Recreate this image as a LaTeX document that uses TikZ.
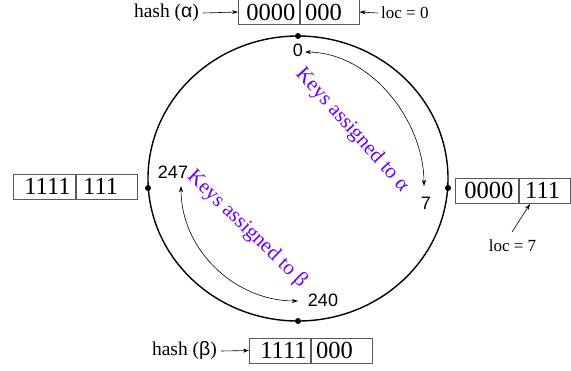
\documentclass[tikz,border=0pt]{standalone}
\usepackage{fontspec}
\setmainfont{Liberation Serif}
\newfontfamily\arialf{Liberation Sans}
\usetikzlibrary{arrows.meta}
\definecolor{keyviolet}{HTML}{6A00FF}
\tikzset{
  cell/.style={draw=black!65, line width=0.8pt, minimum height=25pt, inner sep=0pt, anchor=west,
    font=\fontsize{24.5}{24.5}\selectfont, text height=16.5pt, text depth=0pt},
  dotpt/.style={circle, fill=black, inner sep=0pt, minimum size=6pt},
  lbl/.style={font=\fontsize{19.5}{19.5}\selectfont, inner sep=0pt},
  lbls/.style={font=\fontsize{17}{17}\selectfont, inner sep=0pt},
  num/.style={font=\arialf\fontsize{18}{18}\selectfont, inner sep=0pt},
  ptr/.style={-{Stealth[length=6pt,width=4pt]}, line width=0.6pt},
  dptr/.style={{Stealth[length=6pt,width=4pt]}-{Stealth[length=6pt,width=4pt]}, line width=0.6pt},
  keys/.style={font=\fontsize{21}{21}\selectfont, text=keyviolet, inner sep=0pt}
}
\begin{document}
\begin{tikzpicture}[x=1pt,y=-1pt]
\useasboundingbox (0,0) rectangle (571,370);
% ring
\draw[line width=1.4pt] (298,178.5) ellipse [x radius=150, y radius=142.5];
\node[dotpt] (dtop) at (298,36) {};
\node[dotpt] (dbot) at (298,321) {};
\node[dotpt] (dleft) at (148,188) {};
\node[dotpt] (dright) at (448,188) {};
% top box
\node[cell, minimum width=61pt, text width=61pt] (t1) at (238,12) {\hspace*{8pt}0000};
\node[cell, minimum width=59pt, text width=59pt] (t2) at (t1.east) {\hspace*{5pt}000};
% left box
\node[cell, minimum width=62pt, text width=62pt] (l1) at (13,186.5) {\hspace*{11pt}1111};
\node[cell, minimum width=61pt, text width=61pt] (l2) at (l1.east) {\hspace*{7pt}111};
% right box
\node[cell, minimum width=63pt, text width=63pt] (r1) at (455,190.5) {\hspace*{9pt}0000};
\node[cell, minimum width=51pt, text width=51pt] (r2) at (r1.east) {\hspace*{6pt}111};
% bottom box
\node[cell, minimum width=61pt, text width=61pt] (b1) at (249,350.5) {\hspace*{11pt}1111};
\node[cell, minimum width=61pt, text width=61pt] (b2) at (b1.east) {\hspace*{5pt}000};
% labels
\node[lbl] (ha) at (166.5,13) {hash ({\arialf α})};
\draw[ptr] (ha.east) ++(4pt,0) coordinate (haS) -- (t1.west);
\node[lbls, anchor=west] (loc0) at (381,13) {loc = 0};
\draw[ptr] (loc0.west) ++(-3pt,0) coordinate (l0S) -- (t2.east);
\node[lbl] (hb) at (184.5,351) {hash ({\arialf β})};
\draw[ptr] (hb.east) ++(4pt,0) coordinate (hbS) -- (b1.west);
\node[lbls] (loc7) at (512.5,246) {loc = 7};
\coordinate (l7S) at (512,232);
\coordinate (l7E) at (530,204);
\draw[ptr] (l7S) -- (l7E);
% ring numbers
\node[num] (n0) at (298,50) {0};
\node[num] (n7) at (426,203) {7};
\node[num] (n247) at (173,172) {247};
\node[num] (n240) at (323,300) {240};
% key arcs
\coordinate (a1) at (305,52);
\coordinate (a2) at (424,186);
\draw[dptr] (a1) .. controls (372,53) and (424,122) .. (a2);
\coordinate (b1s) at (181,186);
\coordinate (b2s) at (298,301);
\draw[dptr] (b1s) .. controls (181,250) and (235,301) .. (b2s);
% key texts
\node[keys, rotate=-48] (ka) at (352,130) {Keys assigned to α};
\node[keys, rotate=-44] (kb) at (247,229) {Keys assigned to β};
\end{tikzpicture}
\end{document}
